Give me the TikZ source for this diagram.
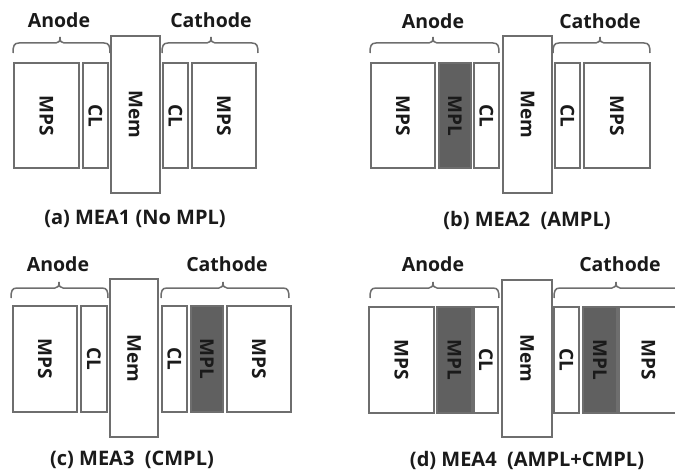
\documentclass[tikz,border=0pt]{standalone}
\usepackage{fontspec}
\setmainfont{Open Sans}
\definecolor{edge}{HTML}{6E6E6E}
\definecolor{mplfill}{HTML}{606060}
\definecolor{ink}{HTML}{1A1A1A}
\newcommand\lay[7]{\node[#7, rotate=-90, minimum width={(#5-#4)*1pt}, minimum height={(#3-#2)*1pt}] (#1) at ({(#2+#3)/2},{(#4+#5)/2}) {#6};}
\newcommand\mybrace[4]{\draw[bracel] ({#1},{#4+10}) .. controls ({#1},{#4+3}) and ({#1+1},{#4}) .. ({#1+6},{#4}) -- ({#3-4},{#4}) .. controls ({#3-1},{#4}) and ({#3},{#4-2}) .. ({#3},{#4-6}) .. controls ({#3},{#4-2}) and ({#3+1},{#4}) .. ({#3+4},{#4}) -- ({#2-6},{#4}) .. controls ({#2-1},{#4}) and ({#2},{#4+3}) .. ({#2},{#4+10});}
\begin{document}
\begin{tikzpicture}[x=1pt,y=-1pt,
  layer/.style={draw=edge, line width=1.5pt, fill=white, inner sep=0pt, text=ink, font=\bfseries\fontsize{19}{19}\selectfont},
  mpl/.style={layer, fill=mplfill},
  bracel/.style={draw=edge, line width=1.5pt},
  side/.style={text=ink, font=\bfseries\fontsize{19.5}{19.5}\selectfont, inner sep=0pt},
  captext/.style={text=ink, font=\bfseries\fontsize{20}{20}\selectfont, inner sep=0pt}]
\useasboundingbox (0,0) rectangle (675,476);
\clip (0,0) rectangle (675,476);
% (a)
\node[side] (aan) at (59,20) {Anode};
\node[side] (aca) at (211,20) {Cathode};
\mybrace{13}{110}{60}{43}
\mybrace{162}{258}{211}{43}
\lay{a1}{14}{79}{63}{168}{MPS}{layer}
\lay{a2}{83}{108}{63}{168}{CL}{layer}
\lay{a3}{111}{160}{36}{193}{Mem}{layer}
\lay{a4}{163}{188}{63}{168}{CL}{layer}
\lay{a5}{192}{256}{63}{168}{MPS}{layer}
\node[captext] (acap) at (135,219) {(a) MEA1 (No MPL)};
% (b)
\node[side] (ban) at (433,21) {Anode};
\node[side] (bca) at (600,21) {Cathode};
\mybrace{370}{499}{433}{43}
\mybrace{553}{650}{600}{43}
\lay{b1}{371}{435}{63}{168}{MPS}{layer}
\lay{b2}{439}{471}{63}{168}{MPL}{mpl}
\lay{b3}{474}{499}{63}{168}{CL}{layer}
\lay{b4}{503}{552}{36}{193}{Mem}{layer}
\lay{b5}{555}{580}{63}{168}{CL}{layer}
\lay{b6}{584}{650}{63}{168}{MPS}{layer}
\node[captext] (bcap) at (527,220) {(b) MEA2\ \ (AMPL)};
% (c)
\node[side] (can) at (58,264) {Anode};
\node[side] (cca) at (227,264) {Cathode};
\mybrace{11}{108}{59}{288}
\mybrace{161}{289}{223}{288}
\lay{c1}{13}{77}{306}{412}{MPS}{layer}
\lay{c2}{81}{107}{306}{412}{CL}{layer}
\lay{c3}{110}{158}{279}{437}{Mem}{layer}
\lay{c4}{162}{187}{306}{412}{CL}{layer}
\lay{c5}{191}{223}{306}{412}{MPL}{mpl}
\lay{c6}{227}{291}{306}{412}{MPS}{layer}
\node[captext] (ccap) at (132,460) {(c) MEA3\ \ (CMPL)};
% (d)
\node[side] (dan) at (433,264) {Anode};
\node[side] (dca) at (620,264) {Cathode};
\mybrace{370}{499}{433}{288}
\mybrace{554}{700}{616}{288}
\lay{d1}{369}{434}{307}{413}{MPS}{layer}
\lay{d2}{437}{472}{307}{413}{MPL}{mpl}
\lay{d3}{474}{498}{307}{413}{CL}{layer}
\lay{d4}{502}{552}{280}{437}{Mem}{layer}
\lay{d5}{554}{579}{307}{413}{CL}{layer}
\lay{d6}{583}{617}{307}{413}{MPL}{mpl}
\lay{d7}{619}{678}{307}{413}{MPS}{layer}
\node[captext] (dcap) at (527,460) {(d) MEA4\ \ (AMPL+CMPL)};
\end{tikzpicture}
\end{document}
